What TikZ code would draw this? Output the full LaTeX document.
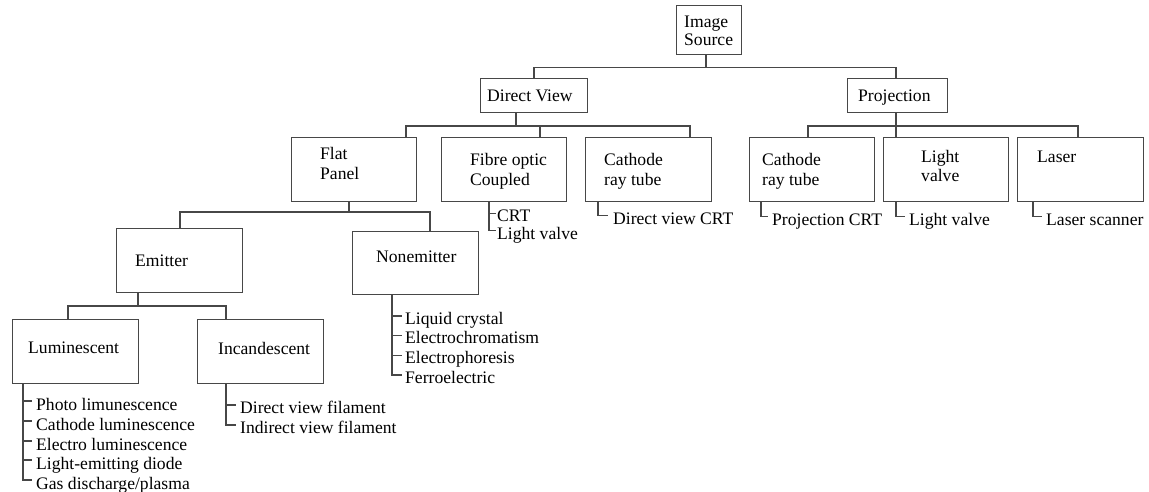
\documentclass[tikz,border=0pt]{standalone}
\usepackage{fontspec}
\setmainfont{Liberation Serif}
\definecolor{ln}{gray}{0.28}
\newcommand\dfont{\fontsize{17.6}{20}\selectfont}
\newcommand\dfontb{\fontsize{17.6}{18}\selectfont}
\newcommand\dfontc{\fontsize{17.6}{19}\selectfont}
\tikzset{
  box/.style={draw=ln, line width=1.1pt, anchor=north west, inner sep=0pt, minimum height=64pt},
  lbl/.style={anchor=north west, inner sep=0pt, align=left, font=\dfont},
  leaf/.style={anchor=base west, inner sep=0pt, font=\dfont},
  conn/.style={draw=ln, line width=1.1pt},
}
\begin{document}
\begin{tikzpicture}[x=1pt,y=-1pt]
\useasboundingbox (0,0) rectangle (1149,492);
\fill[white] (0,0) rectangle (1149,492);

% boxes
\node[box, minimum width=65pt, minimum height=49pt] (src) at (676,5) {};
\node[box, minimum width=107pt, minimum height=34pt] (dv) at (480,78) {};
\node[box, minimum width=100pt, minimum height=34pt] (pr) at (847,78) {};
\node[box, minimum width=125pt] (fp) at (291,137) {};
\node[box, minimum width=125pt] (fo) at (441,137) {};
\node[box, minimum width=126pt] (c1) at (585,137) {};
\node[box, minimum width=125pt] (c2) at (749,137) {};
\node[box, minimum width=125pt] (lv) at (883,137) {};
\node[box, minimum width=126pt] (la) at (1017,137) {};
\node[box, minimum width=126pt] (em) at (116,228) {};
\node[box, minimum width=126pt, minimum height=63pt] (ne) at (352,231) {};
\node[box, minimum width=126pt] (lu) at (12,319) {};
\node[box, minimum width=126pt] (inc) at (197,319) {};

% box labels
\node[lbl, font=\dfontb] (src-l) at (684,15.3) {Image\\Source};
\node[lbl] (dv-l) at (487,89.3) {Direct View};
\node[lbl] (pr-l) at (858,89.3) {Projection};
\node[lbl] (fp-l) at (320,147) {Flat\\Panel};
\node[lbl] (fo-l) at (470,153) {Fibre optic\\Coupled};
\node[lbl] (c1-l) at (604,153) {Cathode\\ray tube};
\node[lbl] (c2-l) at (762,153) {Cathode\\ray tube};
\node[lbl, font=\dfontc] (lv-l) at (921,150) {Light\\valve};
\node[lbl] (la-l) at (1037,150.3) {Laser};
\node[lbl] (em-l) at (135,255) {Emitter};
\node[lbl] (ne-l) at (376,251) {Nonemitter};
\node[lbl] (lu-l) at (28,342) {Luminescent};
\node[lbl] (inc-l) at (218,342) {Incandescent};

% level 1
\coordinate (y1) at (0,67.5);
\coordinate (src-o) at ([xshift=30pt]src.south west);
\coordinate (dv-i) at ([xshift=54pt]dv.north west);
\coordinate (pr-i) at ([xshift=49pt]pr.north west);
\draw[conn] (src-o) -- (src-o |- y1);
\draw[conn] (dv-i) -- (dv-i |- y1) -- (pr-i |- y1) -- (pr-i);

% level 2
\coordinate (y2) at (0,126);
\coordinate (dv-o) at ([xshift=36pt]dv.south west);
\coordinate (fp-i) at ([xshift=115pt]fp.north west);
\coordinate (fo-i) at ([xshift=99pt]fo.north west);
\coordinate (c1-i) at ([xshift=105pt]c1.north west);
\draw[conn] (dv-o) -- (dv-o |- y2);
\draw[conn] (fp-i) -- (fp-i |- y2) -- (c1-i |- y2) -- (c1-i);
\draw[conn] (fo-i) -- (fo-i |- y2);

\coordinate (pr-o) at ([xshift=49pt]pr.south west);
\coordinate (c2-i) at ([xshift=59pt]c2.north west);
\coordinate (lv-i) at ([xshift=13pt]lv.north west);
\coordinate (la-i) at ([xshift=61pt]la.north west);
\draw[conn] (pr-o) -- (pr-o |- y2);
\draw[conn] (c2-i) -- (c2-i |- y2) -- (la-i |- y2) -- (la-i);
\draw[conn] (lv-i) -- (lv-i |- y2);

% level 3
\coordinate (y3) at (0,212);
\coordinate (fp-o) at ([xshift=58pt]fp.south west);
\coordinate (em-i) at ([xshift=64pt]em.north west);
\coordinate (ne-i) at ([xshift=78pt]ne.north west);
\draw[conn] (fp-o) -- (fp-o |- y3);
\draw[conn] (em-i) -- (em-i |- y3) -- (ne-i |- y3) -- (ne-i);

% level 4
\coordinate (y4) at (0,306);
\coordinate (em-o) at ([xshift=22pt]em.south west);
\coordinate (lu-i) at ([xshift=56pt]lu.north west);
\coordinate (inc-i) at ([xshift=29pt]inc.north west);
\draw[conn] (em-o) -- (em-o |- y4);
\draw[conn] (lu-i) -- (lu-i |- y4) -- (inc-i |- y4) -- (inc-i);

% leaf lists
% Fibre optic
\coordinate (fo-s) at ([xshift=48pt]fo.south west);
\node[leaf] (fo1) at (497,222) {CRT};
\node[leaf] (fo2) at (497,239) {Light valve};
\foreach \i in {1,2} \coordinate (t-fo-\i) at ([xshift=-1pt,yshift=8.5pt]fo\i.base west);
\draw[conn] (fo-s) -- (fo-s |- t-fo-2) -- (t-fo-2);
\draw[conn] (fo-s |- t-fo-1) -- (t-fo-1);

% Cathode ray tube (direct)
\coordinate (c1-s) at ([xshift=13pt]c1.south west);
\node[leaf] (c1a) at (613,224) {Direct view CRT};
\coordinate (t-c1) at ([xshift=-5pt,yshift=8.5pt]c1a.base west);
\draw[conn] (c1-s) -- (c1-s |- t-c1) -- (t-c1);

% Projection leaves
\coordinate (c2-s) at ([xshift=12pt]c2.south west);
\node[leaf] (c2a) at (772,225) {Projection CRT};
\coordinate (t-c2) at ([xshift=-4pt,yshift=8.5pt]c2a.base west);
\draw[conn] (c2-s) -- (c2-s |- t-c2) -- (t-c2);

\coordinate (lv-s) at ([xshift=13pt]lv.south west);
\node[leaf] (lva) at (909,225) {Light valve};
\coordinate (t-lv) at ([xshift=-4pt,yshift=8.5pt]lva.base west);
\draw[conn] (lv-s) -- (lv-s |- t-lv) -- (t-lv);

\coordinate (la-s) at ([xshift=16pt]la.south west);
\node[leaf] (laa) at (1046,225) {Laser scanner};
\coordinate (t-la) at ([xshift=-4pt,yshift=8.5pt]laa.base west);
\draw[conn] (la-s) -- (la-s |- t-la) -- (t-la);

% Nonemitter
\coordinate (ne-s) at ([xshift=40pt]ne.south west);
\node[leaf] (ne1) at (405,324) {Liquid crystal};
\node[leaf] (ne2) at (405,343.5) {Electrochromatism};
\node[leaf] (ne3) at (405,363.5) {Electrophoresis};
\node[leaf] (ne4) at (405,383) {Ferroelectric};
\foreach \i in {1,...,4} \coordinate (t-ne-\i) at ([xshift=-3pt,yshift=8pt]ne\i.base west);
\draw[conn] (ne-s) -- (ne-s |- t-ne-4) -- (t-ne-4);
\foreach \i in {1,2,3} \draw[conn] (ne-s |- t-ne-\i) -- (t-ne-\i);

% Luminescent
\coordinate (lu-s) at ([xshift=11pt]lu.south west);
\node[leaf] (lu1) at (36,410) {Photo limunescence};
\node[leaf] (lu2) at (36,430) {Cathode luminescence};
\node[leaf] (lu3) at (36,450) {Electro luminescence};
\node[leaf] (lu4) at (36,469) {Light-emitting diode};
\node[leaf] (lu5) at (36,489) {Gas discharge/plasma};
\foreach \i in {1,...,5} \coordinate (t-lu-\i) at ([xshift=-4pt,yshift=9pt]lu\i.base west);
\draw[conn] (lu-s) -- (lu-s |- t-lu-5) -- (t-lu-5);
\foreach \i in {1,...,4} \draw[conn] (lu-s |- t-lu-\i) -- (t-lu-\i);

% Incandescent
\coordinate (inc-s) at ([xshift=29pt]inc.south west);
\node[leaf] (in1) at (240,413) {Direct view filament};
\node[leaf] (in2) at (240,433) {Indirect view filament};
\foreach \i in {1,2} \coordinate (t-in-\i) at ([xshift=-4pt,yshift=8pt]in\i.base west);
\draw[conn] (inc-s) -- (inc-s |- t-in-2) -- (t-in-2);
\draw[conn] (inc-s |- t-in-1) -- (t-in-1);
\end{tikzpicture}
\end{document}
